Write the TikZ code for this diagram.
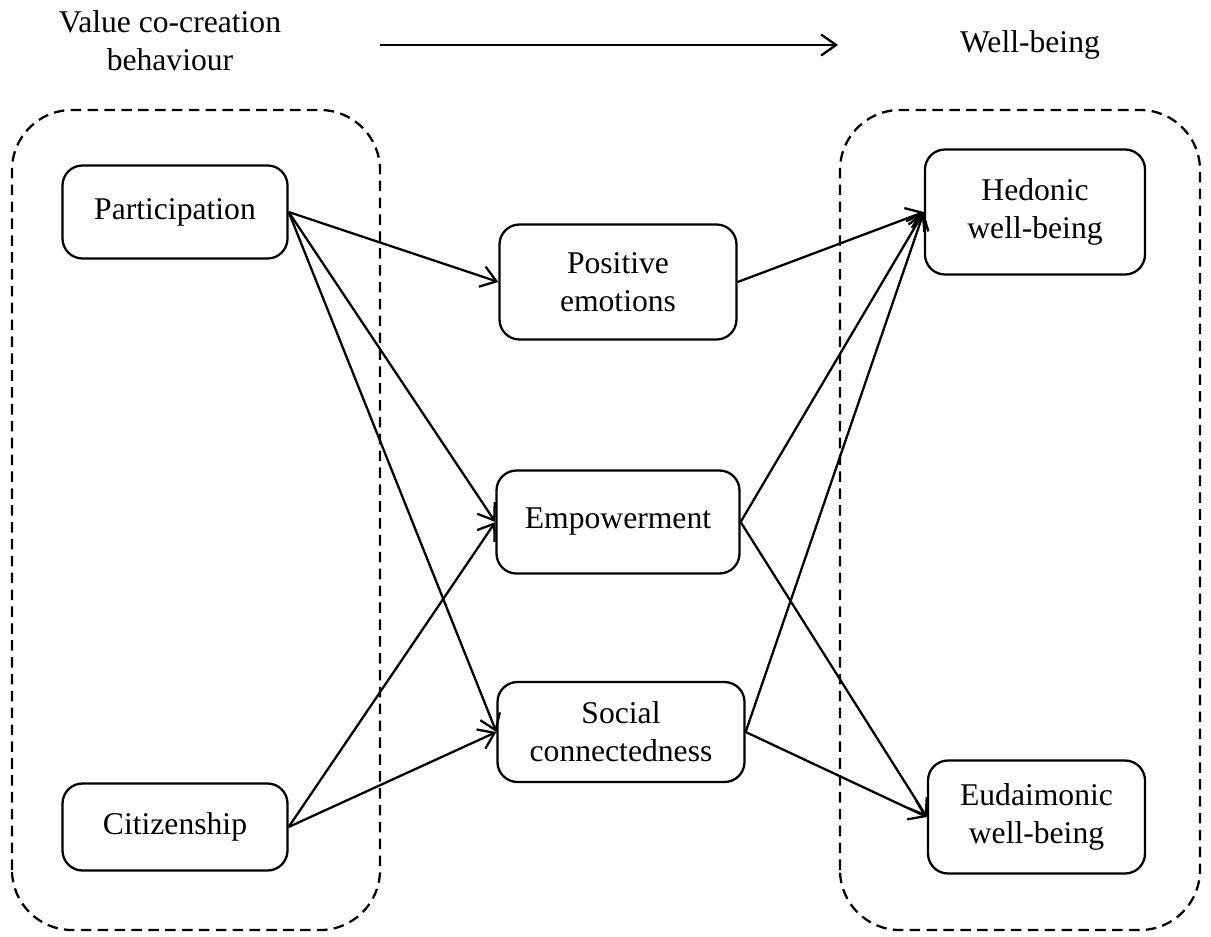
\documentclass[tikz,border=0pt]{standalone}
\usepackage{fontspec}
\setmainfont{Liberation Serif}
\usetikzlibrary{arrows.meta}
\tikzset{
    box/.style={draw, rounded corners=0.4cm, line width=1.3pt, align=center,
    	inner sep=0pt, font=\fontsize{18}{21.5}\selectfont},
    group/.style={draw, dash pattern=on 6pt off 3.6pt, line width=1.3pt,
    	rounded corners=1.2cm},
    link/.style={-{Straight Barb[length=8.5pt, width=12pt, line width=1.3pt]},
    	line width=1.3pt}
}

\begin{document}
\begin{tikzpicture}
  \useasboundingbox (0cm, 0cm) rectangle (24.22cm, 18.72cm);

  % groups
  \draw[group] (0.24cm, 0.12cm) rectangle (7.60cm, 16.52cm);
  \draw[group] (16.80cm, 0.12cm) rectangle (24.00cm, 16.52cm);

  % headings
  \node (vcb) [align=center, font=\fontsize{18}{21.5}\selectfont] at (3.40cm, 17.90cm)
    {Value co-creation\\behaviour};
  \node (wb) [font=\fontsize{18}{21.5}\selectfont] at (20.60cm, 17.82cm) {Well-being};
  \coordinate (h0) at (7.60cm, 17.82cm);
  \coordinate (h1) at (16.76cm, 17.82cm);
  \draw[link] (h0) -- (h1);

  \node (part) [box, minimum width=4.5cm, minimum height=1.86cm] at (3.50cm, 14.48cm) {Participation};
  \node (cit) [box, minimum width=4.5cm, minimum height=1.74cm] at (3.50cm, 2.18cm) {Citizenship};
  \node (pos) [box, minimum width=4.74cm, minimum height=2.3cm] at (12.36cm, 13.08cm) {Positive\\emotions};
  \node (emp) [box, minimum width=4.86cm, minimum height=2.06cm] at (12.36cm, 8.28cm) {Empowerment};
  \node (soc) [box, minimum width=4.94cm, minimum height=2.0cm] at (12.42cm, 4.08cm) {Social\\connectedness};
  \node (hed) [box, minimum width=4.4cm, minimum height=2.5cm] at (20.70cm, 14.48cm) {Hedonic\\well-being};
  \node (eud) [box, minimum width=4.34cm, minimum height=2.26cm] at (20.73cm, 2.38cm) {Eudaimonic\\well-being};

  \draw[link] (part.east) -- (pos.west); \draw[link] (part.east) -- (emp.west);
  \draw[link] (part.east) -- (soc.west); \draw[link] (cit.east) -- (emp.west);
  \draw[link] (cit.east) -- (soc.west); \draw[link] (pos.east) -- (hed.west);
  \draw[link] (emp.east) -- (hed.west); \draw[link] (emp.east) -- (eud.west);
  \draw[link] (soc.east) -- (hed.west); \draw[link] (soc.east) -- (eud.west);

\end{tikzpicture}
\end{document}
